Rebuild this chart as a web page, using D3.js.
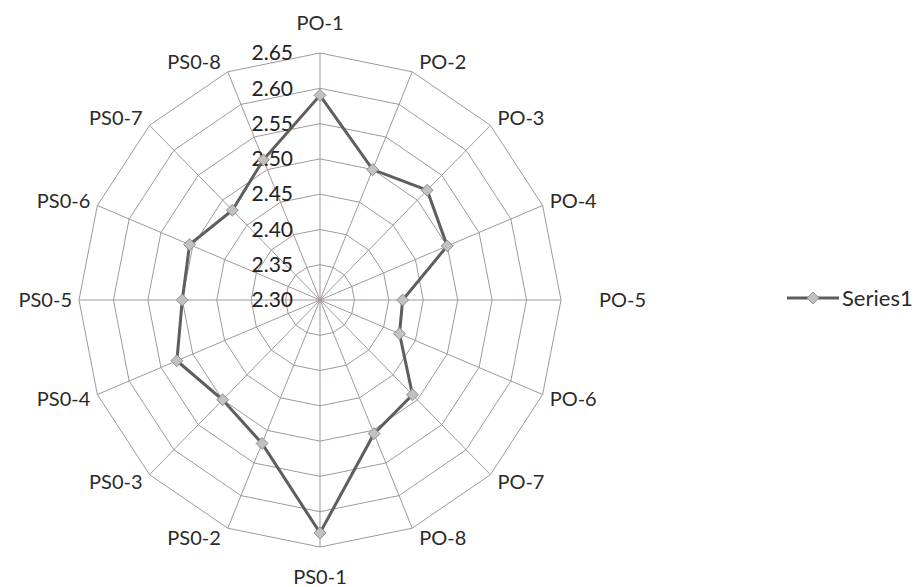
<!DOCTYPE html>
<html><head><meta charset="utf-8">
<script src="https://cdn.jsdelivr.net/npm/d3@7"></script>
<style>body{margin:0;background:#fff}svg{display:block}text{font-family:Lato,"Open Sans",sans-serif}</style>
</head><body>
<svg id="c" width="920" height="587"></svg>
<script>
const categories = ["PO-1","PO-2","PO-3","PO-4","PO-5","PO-6","PO-7","PO-8","PS0-1","PS0-2","PS0-3","PS0-4","PS0-5","PS0-6","PS0-7","PS0-8"];
const series1 = [2.59,2.50,2.52,2.50,2.42,2.425,2.49,2.505,2.63,2.52,2.50,2.525,2.50,2.505,2.48,2.515];
const ticks = [2.30,2.35,2.40,2.45,2.50,2.55,2.60,2.65];
const seriesName = "Series1";

const svg = d3.select("#c");
const cx = 320, cy = 300, rx = 241, ry = 247;
const r = d3.scaleLinear().domain([2.30, 2.65]).range([0, 1]);
const ang = d3.scalePoint().domain(categories.concat(["_end"])).range([0, 2*Math.PI]);
const pt = (c, v) => { const a = ang(c), k = r(v); return [cx + Math.sin(a)*rx*k, cy - Math.cos(a)*ry*k]; };

const g = svg.append("g");
ticks.slice(1).forEach(t => {
  g.append("polygon").attr("points", categories.map(c => pt(c, t).join(",")).join(" "))
    .attr("fill", "none").attr("stroke", "#a3979b").attr("stroke-width", 1);
});
categories.forEach(c => {
  const p = pt(c, 2.65);
  g.append("line").attr("x1", cx).attr("y1", cy).attr("x2", p[0]).attr("y2", p[1])
    .attr("stroke", "#a3979b").attr("stroke-width", 1);
});
ticks.forEach(t => {
  g.append("text").attr("x", cx - 27).attr("y", pt(categories[0], t)[1]).attr("dy", "0.35em")
    .attr("text-anchor", "end").attr("font-size", 21).attr("fill", "#222").text(t.toFixed(2));
});
categories.forEach((c, i) => {
  const a = ang(c);
  const [vx, vy] = pt(c, 2.65);
  const s = Math.sin(a), co = Math.cos(a);
  let anchor = "middle", lx = vx, ly = vy;
  if (Math.abs(s) < 0.01) { ly = vy - co * 30; }
  else {
    anchor = s > 0 ? "start" : "end";
    const dx = (Math.abs(co) < 0.01 && s > 0) ? 38 : 7;
    lx = vx + (s > 0 ? dx : -dx);
    ly = vy - co * 11;
  }
  g.append("text").attr("x", lx).attr("y", ly).attr("dy", "0.35em")
    .attr("text-anchor", anchor).attr("font-size", 20).attr("fill", "#2a2a2a").text(c);
});
const pts = categories.map((c, i) => pt(c, series1[i]));
g.append("path").attr("d", d3.line().curve(d3.curveLinearClosed)(pts))
  .attr("fill", "none").attr("stroke", "#5e5e5e").attr("stroke-width", 3);
const diamond = d3.symbol().type(d3.symbolDiamond2).size(90);
g.selectAll(".m").data(pts).join("path").attr("class", "m")
  .attr("transform", d => `translate(${d[0]},${d[1]})`).attr("d", diamond)
  .attr("fill", "#c4c0c0").attr("stroke", "#8e8e8e").attr("stroke-width", 1);
const lg = svg.append("g").attr("transform", "translate(787,298)");
lg.append("line").attr("x1", 0).attr("x2", 52).attr("stroke", "#5e5e5e").attr("stroke-width", 3);
lg.append("path").attr("transform", "translate(26,0)").attr("d", diamond)
  .attr("fill", "#c4c0c0").attr("stroke", "#8e8e8e");
lg.append("text").attr("x", 55).attr("dy", "0.35em").attr("font-size", 22).attr("fill", "#2a2a2a").text(seriesName);
</script>
</body></html>
